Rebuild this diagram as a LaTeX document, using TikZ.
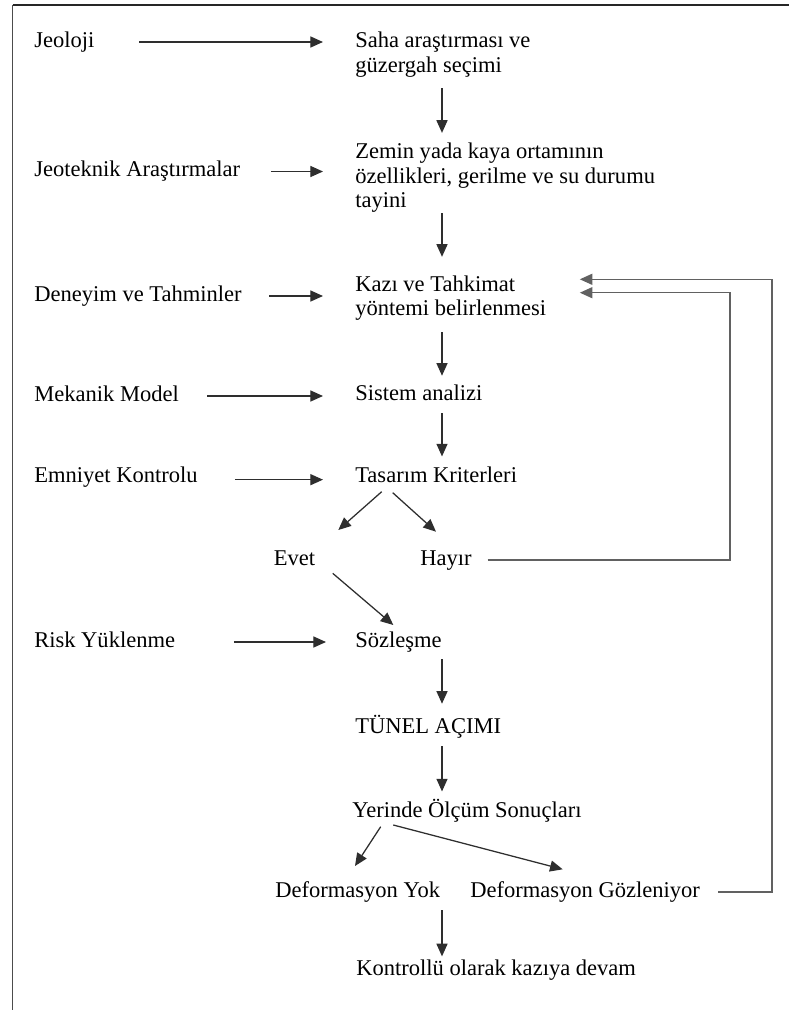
\documentclass[tikz,border=0pt]{standalone}
\usepackage{fontspec}
\setmainfont{Liberation Serif}
\usetikzlibrary{arrows.meta,calc}
\begin{document}
\begin{tikzpicture}[x=0.75pt,y=-0.75pt,
  every node/.style={font=\fontsize{16.9pt}{18.4pt}\selectfont, inner sep=0pt, text=black},
  lbl/.style={anchor=west, text height=12.2pt, text depth=4.05pt},
  blk/.style={anchor=west, align=left},
  arr/.style={draw=black!82, line width=0.95pt, -{Triangle[length=9.5pt,width=8.3pt]}},
  fb/.style={arr, draw=black!62, line width=1.1pt},
]
\useasboundingbox (0,0) rectangle (789,1010);
% frame
\draw[black!85, line width=2pt] (12.6,5) -- (789,5);
\draw[black!70, line width=1.3pt] (12.6,5) -- (12.6,1010);

% left column
\node[lbl] (jeo)  at (34,42)    {Jeoloji};
\node[lbl] (jeot) at (34,171.5) {Jeoteknik Araştırmalar};
\node[lbl] (den)  at (34,296)   {Deneyim ve Tahminler};
\node[lbl] (mek)  at (34,396)   {Mekanik Model};
\node[lbl] (emn)  at (34,477)   {Emniyet Kontrolu};
\node[lbl] (risk) at (34,642)   {Risk Yüklenme};

% main column
\node[blk] (saha)  at (355,54.75) {Saha araştırması ve\\güzergah seçimi};
\node[blk] (zemin) at (355,177.8) {Zemin yada kaya ortamının\\özellikleri, gerilme ve su durumu\\tayini};
\node[blk] (kazi)  at (355,298)   {Kazı ve Tahkimat\\yöntemi belirlenmesi};
\node[lbl] (sis)   at (355,395.5) {Sistem analizi};
\node[lbl] (tas)   at (355,477)   {Tasarım Kriterleri};
\node[lbl, anchor=center] (evet)  at (294.5,560) {Evet};
\node[lbl, anchor=center] (hayir) at (445.9,560) {Hayır};
\node[lbl] (soz)   at (355,642)   {Sözleşme};
\node[lbl] (tunel) at (355,728.3) {TÜNEL AÇIMI};
\node[lbl] (yer)   at (352,812)   {Yerinde Ölçüm Sonuçları};
\node[lbl] (defy)  at (275,892)   {Deformasyon Yok};
\node[lbl] (defg)  at (470,892)   {Deformasyon Gözleniyor};
\node[lbl] (kont)  at (356,970)   {Kontrollü olarak kazıya devam};

% helper coordinates
\coordinate (cx) at (442,0);
\coordinate (r1) at (730,292.7);
\coordinate (r2) at (772,279.3);
\coordinate (k1) at ($(kazi.east)+(33.4,0)$);

% horizontal input arrows
\draw[arr, shorten <=33.4pt, shorten >=24pt] (jeo.east) -- (jeo.east -| saha.west);
\draw[arr, shorten <=22.8pt, shorten >=24pt] (jeot.east) -- (jeot.east -| zemin.west);
\draw[arr, shorten <=20.5pt, shorten >=24pt] (den.east) -- (den.east -| kazi.west);
\draw[arr, shorten <=21pt, shorten >=24pt] (mek.east) -- (mek.east -| sis.west);
\draw[arr, shorten <=27.75pt, shorten >=24pt] ([yshift=-2pt]emn.east) -- ([yshift=-2pt]emn.east -| tas.west);
\draw[arr, shorten <=43.8pt, shorten >=21.75pt] (risk.east) -- (risk.east -| soz.west);

% vertical arrows
\draw[arr, shorten <=8.2pt, shorten >=7.4pt] (saha.south -| cx) -- (zemin.north -| cx);
\draw[arr, shorten <=0.3pt, shorten >=13.8pt] (zemin.south -| cx) -- (kazi.north -| cx);
\draw[arr, shorten <=8.5pt, shorten >=6.5pt] (kazi.south -| cx) -- (sis.north -| cx);
\draw[arr, shorten <=4.8pt, shorten >=7.1pt] (sis.south -| cx) -- (tas.north -| cx);
\draw[arr, shorten <=4.65pt, shorten >=10.1pt] (soz.south -| cx) -- (tunel.north -| cx);
\draw[arr, shorten <=5.2pt, shorten >=7.1pt] (tunel.south -| cx) -- (yer.north -| cx);
\draw[arr, shorten <=5.4pt, shorten >=1.9pt] (defy.south -| cx) -- (kont.north -| cx);

% diagonal arrows
\draw[arr] ($(tas.west)+(26.7,14.7)$) -- ($(evet.center)+(43.8,-30)$);
\draw[arr] ($(tas.west)+(37.7,15.7)$) -- ($(hayir.center)+(-9.9,-28.3)$);
\draw[arr] ($(evet.center)+(38.2,13.3)$) -- ($(soz.west)+(38.3,-17)$);
\draw[arr] ($(yer.west)+(28.7,14.7)$) -- ($(defy.west)+(80,-26)$);
\draw[arr] ($(yer.west)+(41.3,13)$) -- ($(defg.west)+(92.7,-22.7)$);

% feedback loops
\draw[fb, shorten <=11.9pt] (hayir.east) -| (r1) -- (r1 -| k1);
\draw[fb, shorten <=13.5pt] (defg.east) -| (r2) -- (r2 -| k1);
\end{tikzpicture}
\end{document}
